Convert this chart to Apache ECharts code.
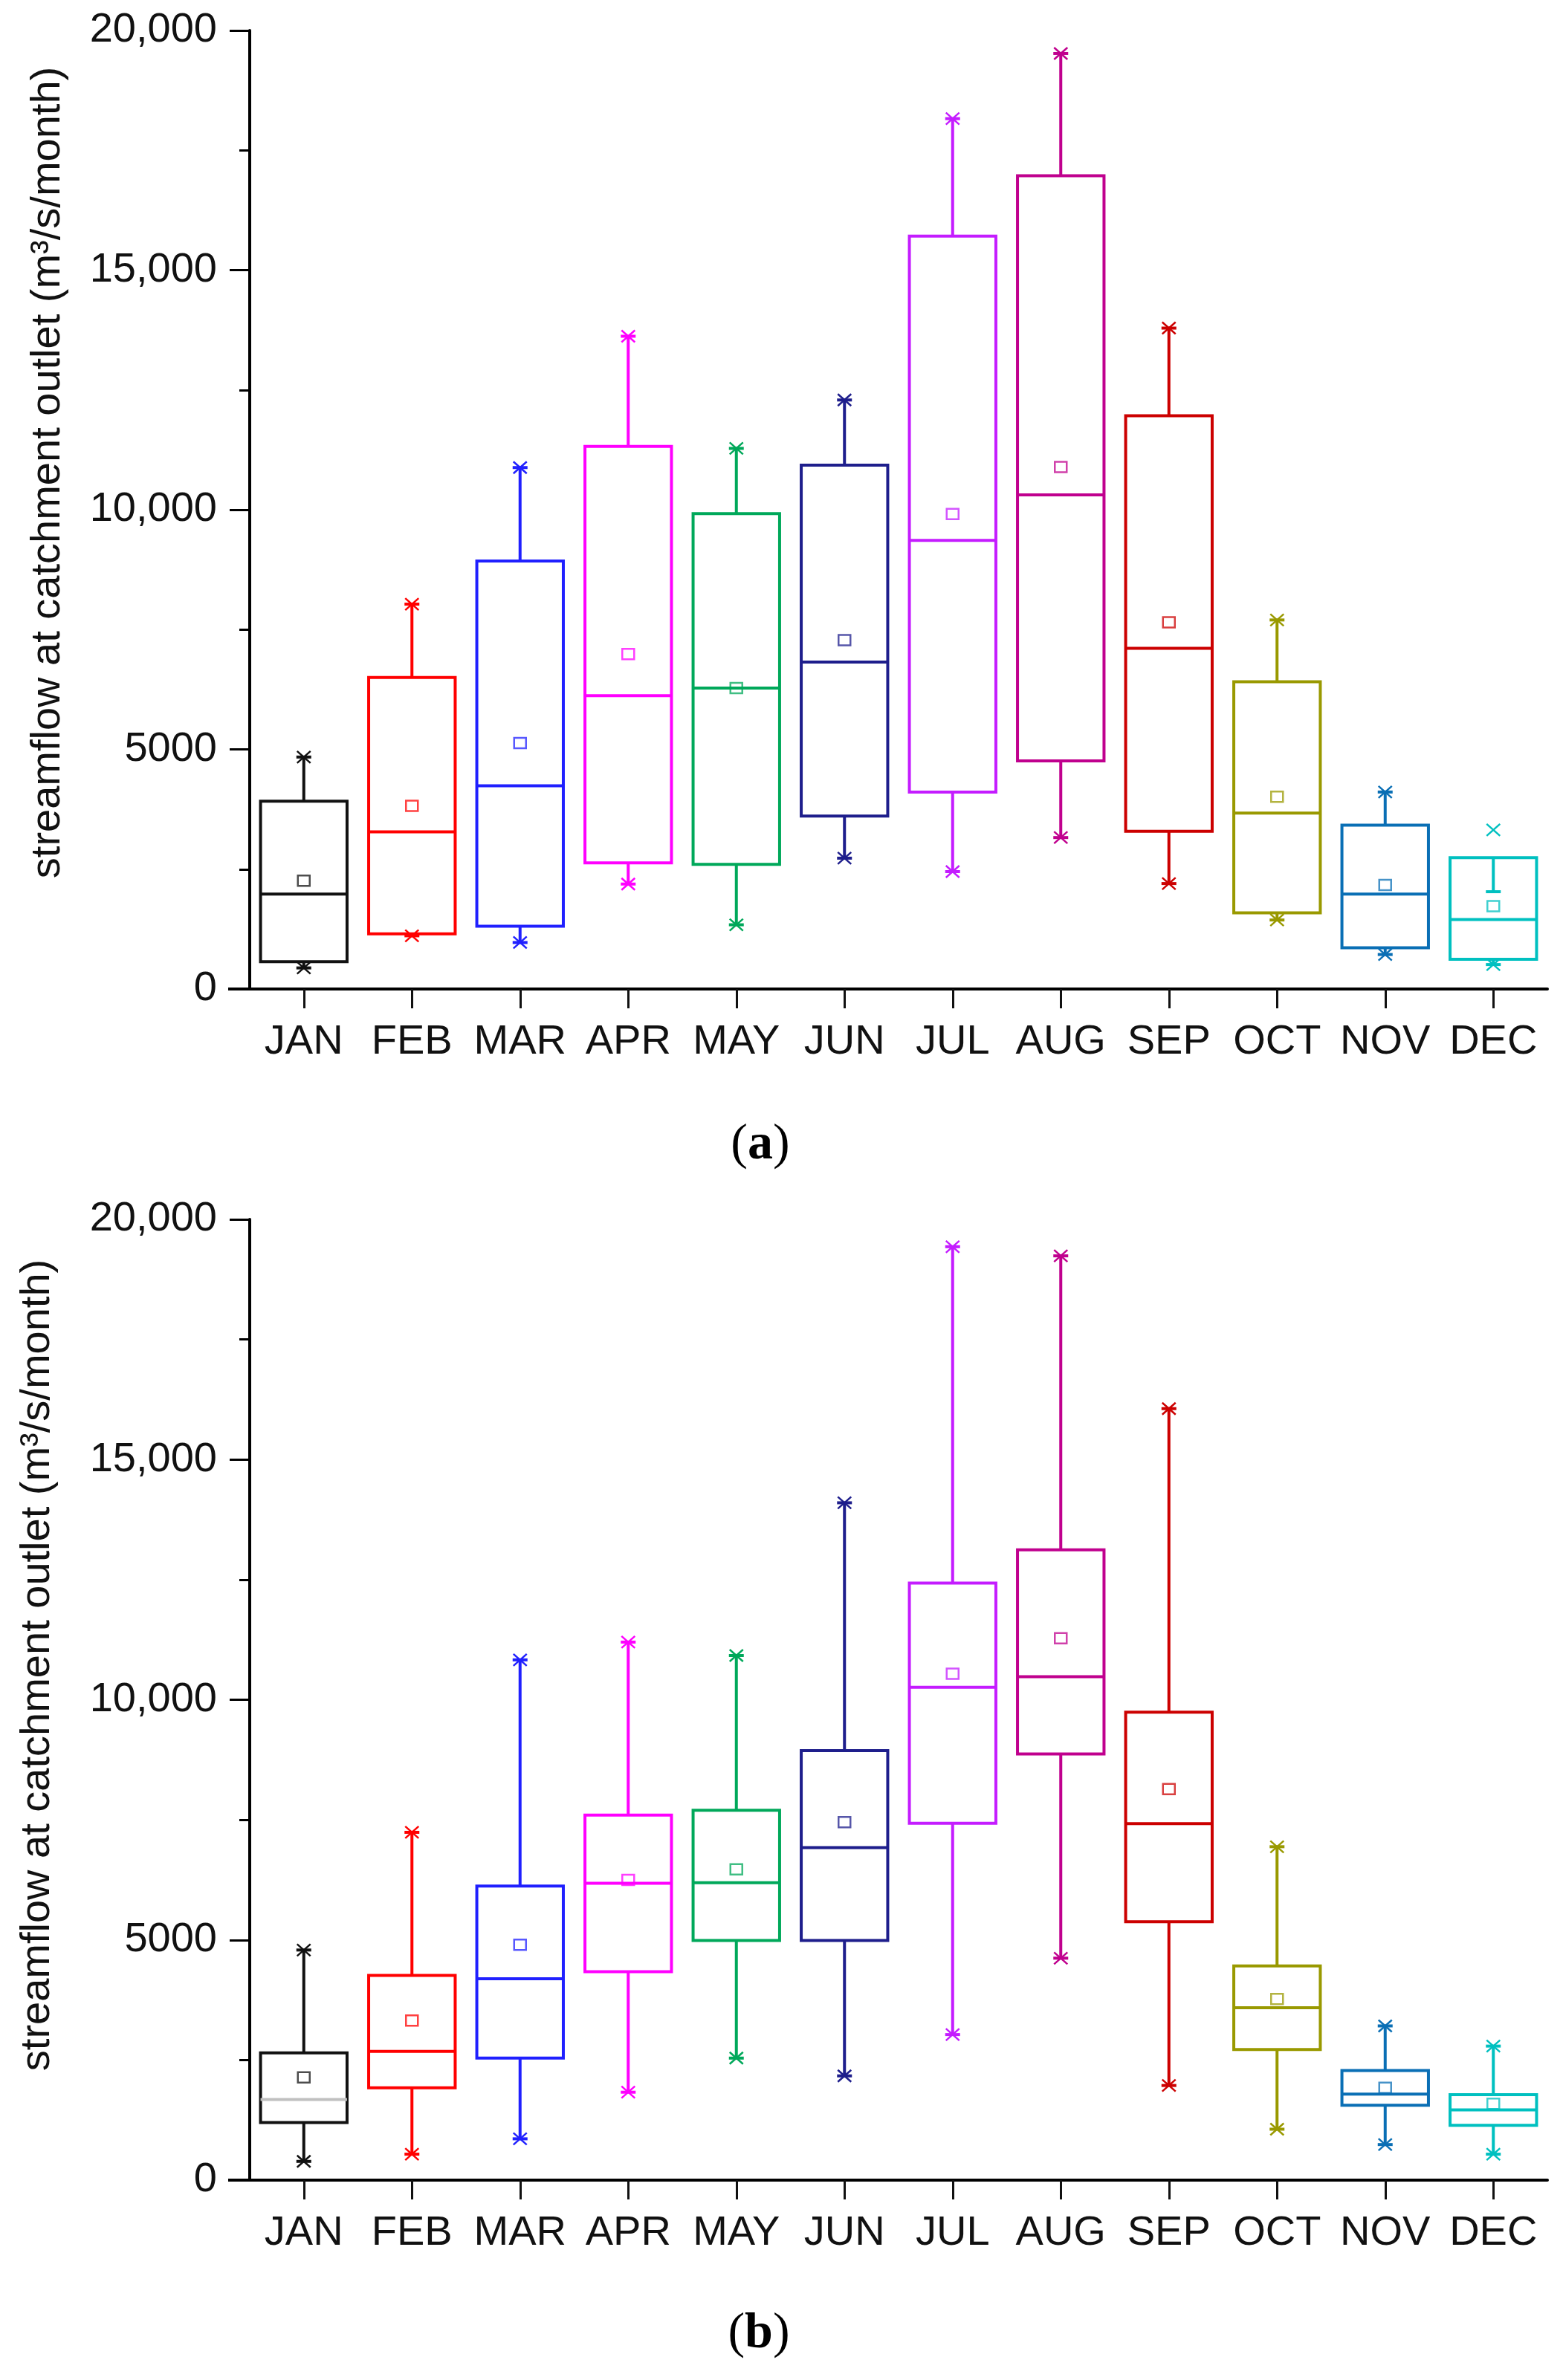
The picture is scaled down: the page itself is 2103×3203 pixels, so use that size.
<!DOCTYPE html>
<html>
<head>
<meta charset="utf-8">
<title>Monthly streamflow box plots</title>
<script src="https://cdn.jsdelivr.net/npm/echarts@6/dist/echarts.min.js"></script>
<style>
  html, body { margin: 0; padding: 0; background: #fff; }
  #main { width: 2103px; height: 3203px; }
</style>
</head>
<body>
<div id="main"></div>
<script>
// categories
const months = ['JAN', 'FEB', 'MAR', 'APR', 'MAY', 'JUN', 'JUL', 'AUG', 'SEP', 'OCT', 'NOV', 'DEC'];
const yTicks = [0, 5000, 10000, 15000, 20000];

// panel (a)
const aMin = [440, 1110, 970, 2190, 1340, 2730, 2450, 3160, 2200, 1440, 720, 510];
const aQ1 = [570, 1150, 1310, 2630, 2600, 3610, 4110, 4760, 3290, 1590, 860, 620];
const aMedian = [1980, 3280, 4240, 6120, 6280, 6820, 9360, 10310, 7110, 3670, 1980, 1450];
const aQ3 = [3920, 6500, 8930, 11320, 9920, 10930, 15710, 16970, 11960, 6410, 3420, 2740];
const aWhiskerTop = [4840, 8030, 10880, 13620, 11280, 12290, 18160, 19520, 13790, 7700, 4110, 2030];
const aMax = [4840, 8030, 10880, 13620, 11280, 12290, 18160, 19520, 13790, 7700, 4110, 3320];
const aMean = [2260, 3820, 5130, 6990, 6280, 7280, 9910, 10890, 7650, 4010, 2170, 1730];

// panel (b)
const bMin = [390, 540, 860, 1830, 2540, 2170, 3030, 4620, 1970, 1060, 740, 540];
const bQ1 = [1200, 1920, 2540, 4340, 4990, 4990, 7430, 8870, 5380, 2720, 1560, 1140];
const bMedian = [1680, 2680, 4190, 6180, 6190, 6920, 10260, 10480, 7420, 3590, 1790, 1460];
const bQ3 = [2650, 4260, 6120, 7600, 7700, 8940, 12430, 13120, 9740, 4460, 2280, 1780];
const bWhiskerTop = [4790, 7240, 10830, 11200, 10920, 14100, 19430, 19240, 16060, 6940, 3210, 2790];
const bMax = [4790, 7240, 10830, 11200, 10920, 14100, 19430, 19240, 16060, 6940, 3210, 2790];
const bMean = [2140, 3320, 4900, 6250, 6470, 7450, 10540, 11280, 8140, 3770, 1920, 1590];

// styles
const boxColors = ['#111111', '#ff0000', '#2020ff', '#ff00ff', '#00a85a', '#1e1e8c',
  '#c41cff', '#c0008e', '#cc0000', '#999900', '#0a6fb5', '#00c0c0'];
const medianColorsA = boxColors;
const medianColorsB = ['#c0c0c0'].concat(boxColors.slice(1));

const FONT = 'Liberation Sans, Arial, sans-serif';
const GRID_LEFT = 336, GRID_RIGHT = 21;
const gridA = { left: GRID_LEFT, right: GRID_RIGHT, top: 41, height: 1290 };
const gridB = { left: GRID_LEFT, right: GRID_RIGHT, top: 1641, height: 1293 };

function rows(lo, q1, med, q3, wt, mx, mean) {
  return months.map((m, i) => [i, lo[i], q1[i], med[i], q3[i], wt[i], mx[i], lo[i], mean[i]]);
}

function makeRender(medColors) {
  return function (params, api) {
    const i = api.value(0);
    const c = boxColors[i];
    const lo = api.coord([i, api.value(1)]);
    const q1 = api.coord([i, api.value(2)]);
    const md = api.coord([i, api.value(3)]);
    const q3 = api.coord([i, api.value(4)]);
    const hi = api.coord([i, api.value(5)]);
    const mx = api.coord([i, api.value(6)]);
    const mn = api.coord([i, api.value(7)]);
    const mean = api.coord([i, api.value(8)]);
    const x = lo[0];
    const hw = api.size([1, 0])[0] * 0.4;
    const st = { stroke: c, lineWidth: 4, fill: 'none' };
    const line = (x1, y1, x2, y2, s) => ({ type: 'line', shape: { x1, y1, x2, y2 }, style: s || st });
    const cross = (p) => {
      const s = { stroke: c, lineWidth: 2.5 };
      return [line(p[0] - 9, p[1] - 8, p[0] + 9, p[1] + 8, s), line(p[0] - 9, p[1] + 8, p[0] + 9, p[1] - 8, s)];
    };
    const children = [
      line(x, q3[1], x, hi[1]),
      line(x, q1[1], x, lo[1]),
      line(x - 10, hi[1], x + 10, hi[1]),
      line(x - 10, lo[1], x + 10, lo[1]),
      { type: 'rect', shape: { x: x - hw, y: q3[1], width: hw * 2, height: q1[1] - q3[1] }, style: st },
      line(x - hw, md[1], x + hw, md[1], { stroke: medColors[i], lineWidth: 4 }),
      { type: 'rect', shape: { x: x - 8, y: mean[1] - 7, width: 16, height: 14 }, style: { stroke: c, lineWidth: 2.5, fill: 'none', opacity: 0.75 } }
    ].concat(cross(mx), cross(mn));
    return { type: 'group', children };
  };
}

function fmt(v) {
  return v >= 10000 ? String(v).replace(/\B(?=(\d{3})+(?!\d))/g, ',') : String(v);
}

function xAxisCfg(gi) {
  return {
    type: 'category', gridIndex: gi, data: months,
    axisLine: { lineStyle: { color: '#000', width: 4 } },
    axisTick: { show: true, interval: 0, alignWithLabel: true, length: 26, lineStyle: { color: '#111', width: 3 } },
    axisLabel: { interval: 0, fontFamily: FONT, fontSize: 56, color: '#111', margin: 44 },
    splitLine: { show: false }
  };
}

function yAxisCfg(gi) {
  return {
    type: 'value', gridIndex: gi, min: yTicks[0], max: yTicks[yTicks.length - 1], interval: 5000,
    axisLine: { show: true, lineStyle: { color: '#000', width: 4 } },
    axisTick: { show: true, length: 27, lineStyle: { color: '#000', width: 3 } },
    minorTick: { show: true, splitNumber: 2, length: 14, lineStyle: { color: '#000', width: 3 } },
    axisLabel: { fontFamily: FONT, fontSize: 56, color: '#111', margin: 44, formatter: fmt },
    splitLine: { show: false }
  };
}

const yName = 'streamflow at catchment outlet (m³/s/month)';
const panelRich = {
  p: { fontFamily: 'Liberation Serif, Times New Roman, serif', fontSize: 68, color: '#000' },
  b: { fontFamily: 'Liberation Serif, Times New Roman, serif', fontSize: 68, fontWeight: 'bold', color: '#000' }
};

const option = {
  backgroundColor: '#fff',
  animation: false,
  grid: [gridA, gridB],
  xAxis: [xAxisCfg(0), xAxisCfg(1)],
  yAxis: [yAxisCfg(0), yAxisCfg(1)],
  series: [
    { type: 'custom', xAxisIndex: 0, yAxisIndex: 0, renderItem: makeRender(medianColorsA),
      data: rows(aMin, aQ1, aMedian, aQ3, aWhiskerTop, aMax, aMean) },
    { type: 'custom', xAxisIndex: 1, yAxisIndex: 1, renderItem: makeRender(medianColorsB),
      data: rows(bMin, bQ1, bMedian, bQ3, bWhiskerTop, bMax, bMean) }
  ],
  graphic: [
    // the x axis runs a little past the y axis, as in the source figure
    { type: 'line', shape: { x1: GRID_LEFT - 29, y1: gridA.top + gridA.height, x2: GRID_LEFT, y2: gridA.top + gridA.height },
      style: { stroke: '#000', lineWidth: 4 } },
    { type: 'line', shape: { x1: GRID_LEFT - 29, y1: gridB.top + gridB.height, x2: GRID_LEFT, y2: gridB.top + gridB.height },
      style: { stroke: '#000', lineWidth: 4 } },
    { type: 'text', x: 65, y: 636, rotation: Math.PI / 2,
      style: { text: yName, fontFamily: FONT, fontSize: 56, fill: '#111', align: 'center', verticalAlign: 'middle' } },
    { type: 'text', x: 51, y: 2241, rotation: Math.PI / 2,
      style: { text: yName, fontFamily: FONT, fontSize: 56, fill: '#111', align: 'center', verticalAlign: 'middle' } },
    { type: 'text', x: 1023, y: 1541,
      style: { text: '{p|(}{b|a}{p|)}', rich: panelRich, align: 'center', verticalAlign: 'middle' } },
    { type: 'text', x: 1021, y: 3141,
      style: { text: '{p|(}{b|b}{p|)}', rich: panelRich, align: 'center', verticalAlign: 'middle' } }
  ]
};

const chart = echarts.init(document.getElementById('main'), null, { renderer: 'canvas' });
chart.setOption(option);
</script>
</body>
</html>
